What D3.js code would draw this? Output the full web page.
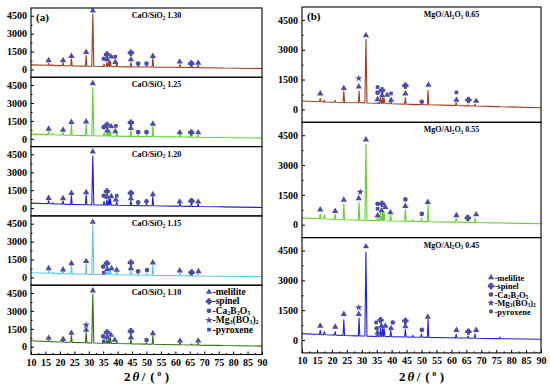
<!DOCTYPE html>
<html>
<head>
<meta charset="utf-8">
<script src="https://cdn.jsdelivr.net/npm/d3@7"></script>
<style>
  body { margin: 0; background: #fff; }
  text { font-family: "Liberation Serif", "Times New Roman", serif; font-weight: bold; fill: #000; }
</style>
</head>
<body>
<svg id="chart" width="550" height="388"></svg>
<script>
// tick labels
const xTicks = [10, 15, 20, 25, 30, 35, 40, 45, 50, 55, 60, 65, 70, 75, 80, 85, 90];
const xMinor = [12.5, 17.5, 22.5, 27.5, 32.5, 37.5, 42.5, 47.5, 52.5, 57.5, 62.5, 67.5, 72.5, 77.5, 82.5, 87.5];
const yTicks = [0, 1500, 3000, 4500];
const yMinor = [750, 2250, 3750];

// panel labels
const leftTitles = ['CaO/SiO_2 1.30', 'CaO/SiO_2 1.25', 'CaO/SiO_2 1.20', 'CaO/SiO_2 1.15', 'CaO/SiO_2 1.10'];
const rightTitles = ['MgO/Al_2O_3 0.65', 'MgO/Al_2O_3 0.55', 'MgO/Al_2O_3 0.45'];
const leftColors = ['#a33b1c', '#5fd32a', '#1f1fd0', '#5cc8f0', '#2f6f12'];
const rightColors = ['#a33b1c', '#66d22e', '#2222dd'];

// peak positions (2theta, deg)
const peakPos = [16.1, 17.5, 21.1, 24.0, 29.1, 31.4, 35.3, 36.3, 37.0, 37.5, 39.7, 44.6, 47.1, 50.0, 52.2, 61.6, 65.6, 67.9, 76.2];

// peak intensities for each pattern
const hL130 = [520, 420, 580, 900, 1180, 4640, 450, 620, 760, 700, 600, 600, 300, 320, 980, 420, 300, 360, 150];
const hL125 = [620, 450, 560, 1200, 1250, 4300, 500, 560, 750, 650, 500, 700, 300, 330, 1080, 380, 250, 350, 130];
const hL120 = [620, 450, 600, 1040, 1120, 4360, 560, 700, 780, 760, 520, 640, 320, 360, 980, 380, 300, 360, 140];
const hL115 = [560, 430, 520, 1000, 1150, 4390, 420, 560, 600, 620, 480, 600, 280, 380, 1040, 380, 260, 330, 130];
const hL110 = [520, 420, 470, 960, 1200, 4410, 380, 600, 700, 760, 420, 620, 250, 330, 940, 360, 220, 320, 120];
const hR065 = [550, 450, 450, 920, 920, 3520, 340, 590, 620, 560, 450, 590, 220, 250, 960, 335, 220, 260, 150];
const hR055 = [540, 500, 540, 1050, 1130, 4060, 400, 640, 680, 600, 500, 760, 250, 330, 1015, 330, 200, 330, 120];
const hR045 = [490, 420, 420, 1010, 1100, 4420, 350, 600, 620, 560, 480, 540, 230, 300, 1040, 290, 200, 300, 150];

// background level of each pattern [2theta, intensity]
const bL130 = [[10, 390], [20, 330], [30, 280], [45, 220], [60, 190], [75, 130], [90, 85]];
const bL125 = [[10, 390], [20, 320], [30, 260], [45, 200], [60, 160], [75, 110], [90, 70]];
const bL120 = [[10, 420], [20, 340], [30, 280], [45, 220], [60, 170], [75, 110], [90, 55]];
const bL115 = [[10, 390], [20, 320], [30, 260], [45, 200], [60, 150], [75, 100], [90, 60]];
const bL110 = [[10, 500], [20, 400], [30, 320], [45, 240], [60, 170], [75, 110], [90, 50]];
const bR065 = [[10, 420], [20, 360], [30, 330], [45, 260], [60, 200], [75, 140], [90, 85]];
const bR055 = [[10, 340], [20, 270], [30, 220], [45, 170], [60, 130], [75, 90], [90, 50]];
const bR045 = [[10, 320], [20, 250], [30, 200], [45, 150], [60, 110], [75, 70], [90, 35]];

// phase markers [2theta, intensity, phase]
// m melilite, s spinel, c Ca2B2O5, g Mg3(BO3)2, p pyroxene
const mL130 = [[16.1, 760, 'm'], [21.1, 760, 'm'], [24.0, 1125, 'm'], [29.1, 1460, 'm'], [31.4, 4920, 'm'],
  [35.2, 900, 'c'], [36.3, 1265, 's'], [36.4, 840, 'm'], [37.8, 1070, 'm'], [39.2, 1070, 'p'], [39.2, 620, 'm'],
  [44.6, 1400, 's'], [44.6, 840, 'm'], [47.1, 500, 'c'], [50.0, 500, 'c'], [52.2, 1125, 'm'],
  [61.5, 650, 'm'], [65.5, 500, 's'], [67.9, 560, 'm']];
const mL125 = [[16.1, 830, 'm'], [21.1, 750, 'm'], [24.0, 1400, 'm'], [29.1, 1440, 'm'], [31.4, 4640, 'm'],
  [35.2, 975, 'c'], [36.3, 1170, 's'], [36.4, 690, 'm'], [37.8, 1030, 'm'], [39.4, 1080, 'p'], [39.2, 610, 'm'],
  [44.6, 1360, 's'], [44.6, 890, 'm'], [47.1, 560, 'c'], [50.0, 560, 'c'], [52.2, 1250, 'm'],
  [61.5, 530, 'm'], [65.5, 530, 's'], [67.9, 530, 'm']];
const mL120 = [[16.1, 840, 'm'], [21.1, 810, 'm'], [24.0, 1260, 'm'], [29.1, 1320, 'm'], [31.4, 4730, 'm'],
  [35.2, 1040, 'c'], [36.3, 1400, 's'], [36.4, 930, 'm'], [37.8, 985, 'm'], [39.7, 1040, 'p'], [39.4, 700, 'm'],
  [44.6, 1260, 's'], [44.6, 810, 'm'], [47.1, 480, 'c'], [50.0, 560, 'c'], [52.2, 1150, 'm'],
  [61.5, 530, 'm'], [65.6, 590, 's'], [67.9, 530, 'm']];
const mL115 = [[16.1, 760, 'm'], [21.1, 650, 'm'], [24.0, 1180, 'm'], [29.1, 1350, 'm'], [31.4, 4640, 'm'],
  [35.0, 900, 'c'], [35.2, 400, 'p'], [36.3, 1180, 's'], [36.4, 700, 'm'], [37.9, 760, 'm'], [39.7, 620, 'm'],
  [44.6, 1240, 's'], [44.6, 760, 'm'], [47.1, 505, 'c'], [50.2, 620, 'c'], [52.2, 1240, 'm'],
  [61.5, 560, 'm'], [65.6, 420, 's'], [68.0, 505, 'm']];
const mL110 = [[16.1, 730, 'm'], [21.1, 640, 'm'], [24.0, 1150, 'm'], [29.1, 1400, 'm'], [29.1, 1820, 'g'], [31.4, 4700, 'm'],
  [35.0, 870, 'c'], [35.2, 450, 'p'], [36.3, 1200, 's'], [36.4, 780, 'm'], [37.7, 980, 'm'], [39.0, 560, 'm'],
  [44.6, 1290, 's'], [44.6, 780, 'm'], [50.0, 560, 'c'], [52.2, 1120, 'm'],
  [61.6, 500, 'm'], [67.9, 500, 'm']];
const mR065 = [[16.1, 790, 'm'], [24.0, 1060, 'm'], [29.0, 1140, 'm'], [29.0, 1560, 'g'], [31.4, 3720, 'm'],
  [35.3, 500, 'm'], [35.3, 840, 'c'], [35.3, 1120, 'p'], [36.8, 700, 'm'], [36.8, 960, 's'], [38.5, 720, 'm'],
  [39.8, 470, 'm'], [39.8, 800, 'p'], [44.6, 790, 'm'], [44.6, 1190, 's'], [50.1, 385, 'c'], [52.3, 1225, 'm'],
  [61.7, 470, 'm'], [61.7, 855, 'p'], [65.7, 470, 's'], [68.3, 420, 'm']];
const mR055 = [[16.1, 760, 'm'], [21.1, 680, 'm'], [24.0, 1250, 'm'], [29.0, 1320, 'm'], [29.5, 1640, 'g'], [31.4, 4280, 'm'],
  [35.3, 460, 'm'], [35.3, 800, 'p'], [35.3, 1050, 'c'], [36.6, 710, 'm'], [36.8, 1050, 's'], [37.9, 880, 'm'],
  [39.6, 610, 'm'], [44.6, 930, 'm'], [44.6, 1270, 'c'], [50.1, 540, 'c'], [52.1, 1130, 'm'],
  [61.7, 470, 'm'], [65.5, 340, 's'], [68.3, 510, 'm']];
const mR045 = [[16.1, 710, 'm'], [21.1, 660, 'm'], [24.0, 1300, 'm'], [29.0, 1300, 'm'], [29.0, 1630, 'g'], [31.4, 4700, 'm'],
  [34.8, 880, 'p'], [35.0, 590, 'c'], [35.3, 370, 'm'], [36.3, 1000, 's'], [36.6, 710, 'm'], [37.9, 710, 'm'],
  [39.8, 590, 'm'], [40.4, 880, 'c'], [44.6, 680, 'm'], [44.6, 960, 's'], [50.1, 505, 'c'], [52.1, 1160, 'm'],
  [61.7, 490, 'm'], [65.7, 420, 's'], [68.3, 490, 'm']];

// legend
const legendKeys = ['m', 's', 'c', 'g', 'p'];
const legendNames = ['-melilite', '-spinel', '-Ca_2B_2O_5', '-Mg_3(BO_3)_2', '-pyroxene'];

const leftSets = [[hL130, bL130, mL130], [hL125, bL125, mL125], [hL120, bL120, mL120], [hL115, bL115, mL115], [hL110, bL110, mL110]];
const rightSets = [[hR065, bR065, mR065], [hR055, bR055, mR055], [hR045, bR045, mR045]];

const serif = '"Liberation Serif", "Times New Roman", serif';
const svg = d3.select('#chart');
svg.append('rect').attr('width', 550).attr('height', 388).attr('fill', '#fff');

const markColor = '#4b4ba8';
const symbolOf = {
  m: d3.symbol().type(d3.symbolTriangle).size(17),
  s: d3.symbol().type(d3.symbolCross).size(15),
  c: d3.symbol().type(d3.symbolCircle).size(17),
  g: d3.symbol().type(d3.symbolStar).size(17),
  p: d3.symbol().type(d3.symbolSquare).size(13)
};

// writes text with _X meaning subscript X
function richText(sel, str, size, shift) {
  const parts = str.split(/_(\d)/);
  let sub = false;
  parts.forEach((p, i) => {
    if (p === '') return;
    const isSub = i % 2 === 1;
    const t = sel.append('tspan').text(p);
    if (isSub) { t.attr('font-size', size * 0.65).attr('dy', sub ? 0 : size * shift); sub = true; }
    else if (sub) { t.attr('dy', -size * shift); sub = false; }
  });
}

function addMark(sel, k) {
  sel.append('path').attr('d', symbolOf[k]()).attr('fill', markColor)
    .attr('stroke', k === 's' ? markColor : 'none').attr('stroke-width', 1.2).attr('stroke-linejoin', 'round');
}

function drawPanel(g, x, y, heights, base, marks, color, title, titleX, titleY) {
  const w = x.range()[1] - x.range()[0];
  const h = y.range()[0] - y.range()[1];
  const baseAt = d3.scaleLinear().domain(base.map(d => d[0])).range(base.map(d => d[1]));
  const pts = base.map(d => [d[0], d[1]]);
  peakPos.forEach((p, i) => {
    const hw = heights[i] > 3000 ? 0.35 : 0.25;
    pts.push([p - hw, baseAt(p - hw)], [p, heights[i]], [p + hw, baseAt(p + hw)]);
  });
  pts.sort((a, b) => a[0] - b[0]);

  g.append('path')
    .datum(pts)
    .attr('fill', 'none')
    .attr('stroke', color)
    .attr('stroke-width', 1.1)
    .attr('stroke-linejoin', 'round')
    .attr('d', d3.line().x(d => x(d[0])).y(d => y(d[1])));

  marks.forEach(d => {
    g.append('g').attr('transform', `translate(${x(d[0])},${y(d[1])})`).call(s => addMark(s, d[2]));
  });

  // y axis
  g.append('g')
    .attr('transform', `translate(${x.range()[0]},0)`)
    .attr('font-family', serif).attr('font-size', 9)
    .call(d3.axisLeft(y).tickValues(yTicks).tickFormat(d3.format('d')).tickSize(-3).tickSizeOuter(0).tickPadding(4))
    .call(a => a.select('.domain').remove())
    .call(a => a.selectAll('text').attr('font-family', serif).attr('font-weight', 'bold'));
  g.append('g')
    .attr('transform', `translate(${x.range()[0]},0)`)
    .call(d3.axisLeft(y).tickValues(yMinor).tickSize(-1.5).tickFormat(''))
    .call(a => a.select('.domain').remove());

  g.append('text')
    .attr('x', titleX).attr('y', titleY)
    .attr('text-anchor', 'middle')
    .attr('font-size', 8)
    .call(t => richText(t, title, 8, 0.2));

  g.append('rect')
    .attr('x', x.range()[0]).attr('y', y.range()[1])
    .attr('width', w).attr('height', h)
    .attr('fill', 'none').attr('stroke', '#000').attr('stroke-width', 1.1);
}

function drawColumn(sets, titles, colors, x0, x1, top, ph, tag, titleShift, legend) {
  const x = d3.scaleLinear().domain([10, 90]).range([x0, x1]);
  const n = sets.length;
  sets.forEach((s, i) => {
    const y = d3.scaleLinear().domain([-650, 5150]).range([top + ph * (i + 1), top + ph * i]);
    const g = svg.append('g');
    drawPanel(g, x, y, s[0], s[1], s[2], colors[i], titles[i], (x0 + x1) / 2 + titleShift, top + ph * i + 10);
    if (i === 0) {
      g.append('text').attr('x', x0 + 5).attr('y', top + 13).attr('font-size', 11).text(tag);
    }
    if (i === n - 1) {
      const lg = g.append('g').attr('transform', `translate(${legend.x},${legend.y})`);
      legendKeys.forEach((k, j) => {
        lg.append('g').attr('transform', `translate(0,${j * legend.gap})`).call(sl => addMark(sl, k));
        lg.append('text').attr('x', 3.5).attr('y', j * legend.gap + 3).attr('font-size', legend.size)
          .call(t => richText(t, legendNames[j], legend.size, 0.12));
      });
    }
  });
  const bottom = top + ph * n;
  svg.append('g')
    .attr('transform', `translate(0,${bottom})`)
    .attr('font-family', serif).attr('font-size', 9)
    .call(d3.axisBottom(x).tickValues(xTicks).tickFormat(d3.format('d')).tickSize(-3).tickSizeOuter(0).tickPadding(4))
    .call(a => a.select('.domain').remove())
    .call(a => a.selectAll('text').attr('font-family', serif).attr('font-weight', 'bold'));
  svg.append('g')
    .attr('transform', `translate(0,${bottom})`)
    .call(d3.axisBottom(x).tickValues(xMinor).tickSize(-1.5).tickFormat(''))
    .call(a => a.select('.domain').remove());
  const t = svg.append('text')
    .attr('x', (x0 + x1) / 2).attr('y', 381)
    .attr('text-anchor', 'middle').attr('font-size', 13);
  t.append('tspan').text('2');
  t.append('tspan').attr('font-style', 'italic').attr('dx', 2).text('θ');
  t.append('tspan').attr('dx', 2.5).text('/');
  t.append('tspan').attr('dx', 5).text('(');
  t.append('tspan').attr('font-size', 8).attr('dx', 2.5).attr('dy', -5).text('o');
  t.append('tspan').attr('dx', 3.5).attr('dy', 5).text(')');
}

drawColumn(leftSets, leftTitles, leftColors, 31, 262, 8, 69.3, '(a)', 10, { x: 209, y: 292, gap: 9.4, size: 9.5 });
drawColumn(rightSets, rightTitles, rightColors, 302, 541, 7, 115.3, '(b)', 30, { x: 491, y: 277.5, gap: 8.5, size: 8.5 });
</script>
</body>
</html>
